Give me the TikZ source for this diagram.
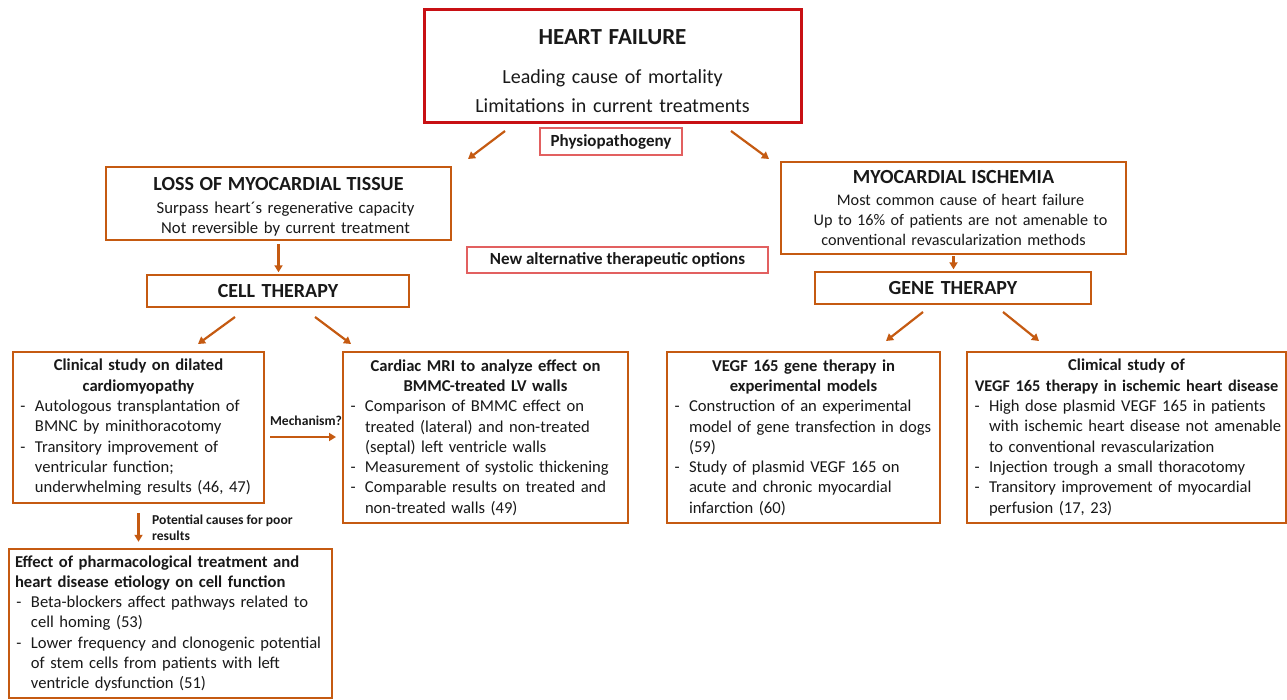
\documentclass[tikz,border=0pt]{standalone}
\usepackage{fontspec}
\setmainfont{Carlito}
\usetikzlibrary{arrows.meta}
\definecolor{org}{RGB}{197,90,17}
\definecolor{hfred}{RGB}{200,16,20}
\definecolor{pinkred}{RGB}{226,96,96}
\definecolor{ink}{RGB}{25,25,25}
\newcommand\dsh{\makebox[16pt][l]{\hspace{1.5pt}-}}
\newcommand\bitem[1]{\noindent\dsh\mbox{#1}}
\newcommand\bcont[1]{\hspace*{16pt}\mbox{#1}}
\begin{document}
\begin{tikzpicture}[x=1pt,y=-1pt,
  base/.style={text=ink, inner ysep=0pt, inner xsep=6pt, align=center},
  obox/.style={base, draw=org, line width=2.4pt},
  redbox/.style={base, draw=hfred, line width=3pt, font=\fontsize{20}{29}\selectfont},
  thinbox/.style={base, draw=pinkred, line width=1.1pt, font=\bfseries\fontsize{17}{20}\selectfont},
  headbox/.style={obox, font=\bfseries\fontsize{20}{24}\selectfont},
  subbox/.style={obox, font=\fontsize{16.7}{20}\selectfont},
  listbox/.style={obox, align=left, font=\fontsize{16.6}{20.3}\selectfont},
  lbl/.style={text=ink, inner sep=0pt, font=\bfseries\fontsize{13.6}{16}\selectfont},
  arr/.style={draw=org, line width=2.2pt, -{Triangle[length=7pt,width=8pt]}}
]
\useasboundingbox (0,0) rectangle (1287,700);
\fill[white] (0,0) rectangle (1287,700);

% top
\node[redbox, text width=365, minimum height=113] (hf) at (612.5,66.5)
  {\rule{0pt}{25pt}{\bfseries\fontsize{23}{29}\selectfont HEART FAILURE}\\[10pt] Leading cause of mortality\\ Limitations in current treatments};
\node[thinbox, minimum width=142, minimum height=27] (phys) at (611,141.5) {Physiopathogeny};

% second row
\node[subbox, text width=333, minimum height=73] (loss) at (278.5,203.5)
  {\rule{0pt}{19pt}{\bfseries\fontsize{20}{24}\selectfont LOSS OF MYOCARDIAL TISSUE}\\[3pt]
   \hspace*{14pt}Surpass heart´s regenerative capacity\\ \hspace*{14pt}Not reversible by current treatment};
\node[subbox, text width=333, minimum height=92, font=\fontsize{16.2}{20}\selectfont] (mi) at (953.5,208)
  {{\bfseries\fontsize{20}{24}\selectfont MYOCARDIAL ISCHEMIA}\\[1.5pt] \hspace*{14pt}Most common cause of heart failure\\
   \hspace*{14pt}Up to 16\% of patients are not amenable to\\ conventional revascularization methods};
\node[thinbox, minimum width=301, minimum height=26] (alt) at (617.5,260) {New alternative therapeutic options};

\node[headbox, text width=250, minimum height=32] (cell) at (278,291) {CELL THERAPY};
\node[headbox, text width=264, minimum height=32] (gene) at (953,288) {GENE THERAPY};

% third row
\node[listbox, text width=239, minimum height=151] (clin) at (138.5,427.5)
  {{\centering\bfseries \mbox{Clinical study on dilated}\\ \mbox{cardiomyopathy}\par}
   \bitem{Autologous transplantation of}\\
   \bcont{BMNC by minithoracotomy}\\
   \bitem{Transitory improvement of}\\
   \bcont{ventricular function;}\\
   \bcont{underwhelming results (46, 47)}};
\node[listbox, text width=273, minimum height=171] (mri) at (485.5,437.5)
  {{\centering\bfseries \mbox{Cardiac MRI to analyze effect on}\\ \mbox{BMMC-treated LV walls}\par}
   \bitem{Comparison of BMMC effect on}\\
   \bcont{treated (lateral) and non-treated}\\
   \bcont{(septal) left ventricle walls}\\
   \bitem{Measurement of systolic thickening}\\
   \bitem{Comparable results on treated and}\\
   \bcont{non-treated walls (49)}};
\node[listbox, text width=261, minimum height=171] (vegf) at (803.5,437.5)
  {{\centering\bfseries \mbox{VEGF 165 gene therapy in}\\ \mbox{experimental models}\par}
   \bitem{Construction of an experimental}\\
   \bcont{model of gene transfection in dogs}\\
   \bcont{(59)}\\
   \bitem{Study of plasmid VEGF 165 on}\\
   \bcont{acute and chronic myocardial}\\
   \bcont{infarction (60)}};
\node[listbox, text width=307, minimum height=171] (clinr) at (1126.5,437.5)
  {{\centering\bfseries \mbox{Climical study of}\\ \makebox[0pt]{\fontsize{16.3}{20.3}\selectfont VEGF 165 therapy in ischemic heart disease}\par}
   \bitem{High dose plasmid VEGF 165 in patients}\\
   \bcont{with ischemic heart disease not amenable}\\
   \bcont{to conventional revascularization}\\
   \bitem{Injection trough a small thoracotomy}\\
   \bitem{Transitory improvement of myocardial}\\
   \bcont{perfusion (17, 23)}};

% bottom
\node[listbox, text width=311, minimum height=149] (eff) at (170.5,623.5)
  {\noindent\textbf{Effect of pharmacological treatment and}\\
   \textbf{heart disease etiology on cell function}\\
   \bitem{Beta-blockers affect pathways related to}\\
   \bcont{cell homing (53)}\\
   \bitem{Lower frequency and clonogenic potential}\\
   \bcont{of stem cells from patients with left}\\
   \bcont{ventricle dysfunction (51)}};

% labels
\node[lbl] (mech) at (306,421) {Mechanism?};
\node[lbl, anchor=west, align=left] (pc) at (152,528) {Potential causes for poor\\results};

% arrow end points
\coordinate (a1s) at (505,131); \coordinate (a1e) at (468,159);
\coordinate (a2s) at (731,131); \coordinate (a2e) at (769,159);
\coordinate (a3s) at (235,317); \coordinate (a3e) at (198,344);
\coordinate (a4s) at (315,317); \coordinate (a4e) at (351,344);
\coordinate (a5s) at (923,312); \coordinate (a5e) at (886,341);
\coordinate (a6s) at (1003,312); \coordinate (a6e) at (1039,341);
\coordinate (m1) at (270,437); \coordinate (m2) at (336,437);

\draw[arr] (a1s) -- (a1e);
\draw[arr] (a2s) -- (a2e);
\draw[arr] (a3s) -- (a3e);
\draw[arr] (a4s) -- (a4e);
\draw[arr] (a5s) -- (a5e);
\draw[arr] (a6s) -- (a6e);
\draw[arr] (m1) -- (m2);
\draw[arr, shorten <=3pt, shorten >=1.5pt] (loss.south) -- (loss.south |- cell.north);
\draw[arr, shorten <=1pt, shorten >=1.5pt] (mi.south) -- (mi.south |- gene.north);
\draw[arr, shorten <=9pt, shorten >=6pt] (clin.south) -- (clin.south |- eff.north);
\end{tikzpicture}
\end{document}
